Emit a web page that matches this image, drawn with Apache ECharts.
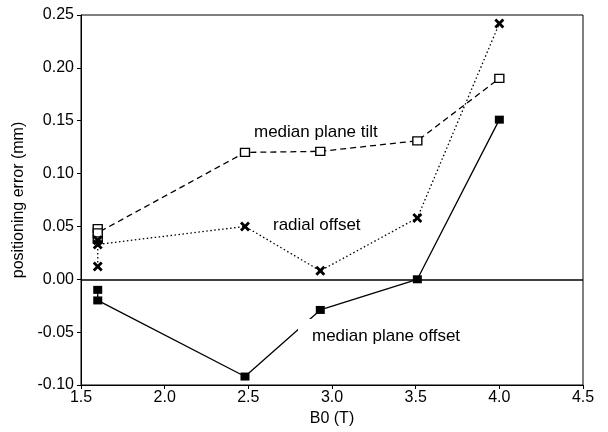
<!DOCTYPE html>
<html>
<head>
<meta charset="utf-8">
<script src="https://cdn.jsdelivr.net/npm/echarts@6/dist/echarts.min.js"></script>
<style>
html,body{margin:0;padding:0;background:#fff;}
#chart{width:608px;height:432px;}
</style>
</head>
<body>
<div id="chart"></div>
<script>
// B0 (T) vs positioning error (mm)
var tiltX = [1.6, 1.6, 1.6, 2.48, 2.93, 3.51, 4.0];
var tiltY = [0.048, 0.038, 0.044, 0.120, 0.121, 0.131, 0.190];
var radialX = [1.6, 1.6, 1.6, 2.48, 2.93, 3.51, 4.0];
var radialY = [0.012, 0.037, 0.033, 0.050, 0.008, 0.058, 0.242];
var offsetX = [1.6, 1.6, 2.48, 2.93, 3.51, 4.0];
var offsetY = [-0.010, -0.020, -0.092, -0.029, 0.0, 0.151];
var xTicks = ['1.5', '2.0', '2.5', '3.0', '3.5', '4.0', '4.5'];
var yTicks = ['-0.10', '-0.05', '0.00', '0.05', '0.10', '0.15', '0.20', '0.25'];

function pairs(xs, ys){
	var out = [];
	for(var i = 0; i < xs.length; i++){
		out.push([xs[i], ys[i]]);
	}
	return out;
}

var crossPath = 'path://M0,2L2,0L5,3L8,0L10,2L7,5L10,8L8,10L5,7L2,10L0,8L3,5Z';
var font = '"Liberation Sans", Arial, sans-serif';

var myChart = echarts.init(document.getElementById('chart'));
var option = {
	backgroundColor: '#fff',
	animation: false,
	grid: {
		left: 81, right: 25, top: 15, bottom: 47,
		show: true, borderColor: '#000', borderWidth: 1
	},
	xAxis: {
		type: 'value',
		min: 1.5, max: 4.5, interval: 0.5,
		name: 'B0 (T)', nameLocation: 'middle', nameGap: 25,
		nameTextStyle: {fontFamily: font, fontSize: 16, color: '#000'},
		axisLine: {onZero: false, lineStyle: {color: '#000'}},
		axisTick: {show: true, length: 4, lineStyle: {color: '#000'}},
		axisLabel: {
			fontFamily: font, fontSize: 16, color: '#000', margin: 5,
			formatter: function(v){ return xTicks[Math.round((v - 1.5) / 0.5)]; }
		},
		splitLine: {show: false}
	},
	yAxis: {
		type: 'value',
		min: -0.10, max: 0.25, interval: 0.05,
		name: 'positioning error (mm)', nameLocation: 'middle', nameGap: 46,
		nameTextStyle: {fontFamily: font, fontSize: 16, color: '#000'},
		axisLine: {show: true, lineStyle: {color: '#000'}},
		axisTick: {show: true, length: 4, lineStyle: {color: '#000'}},
		axisLabel: {
			fontFamily: font, fontSize: 16, color: '#000', margin: 7,
			formatter: function(v){ return yTicks[Math.round((v + 0.10) / 0.05)]; }
		},
		splitLine: {show: false}
	},
	series: [
		{
			name: 'median plane tilt',
			type: 'line',
			data: pairs(tiltX, tiltY),
			symbol: 'rect', symbolSize: [9, 8],
			itemStyle: {color: '#fff', borderColor: '#000', borderWidth: 1.3},
			lineStyle: {color: '#000', width: 1.3, type: [6, 4]},
			z: 3
		},
		{
			name: 'radial offset',
			type: 'line',
			data: pairs(radialX, radialY),
			symbol: crossPath, symbolSize: 10,
			itemStyle: {color: '#000'},
			lineStyle: {color: '#000', width: 1.3, type: [1.5, 2.5]},
			z: 4
		},
		{
			name: 'median plane offset',
			type: 'line',
			data: pairs(offsetX, offsetY),
			symbol: 'rect', symbolSize: [9, 8],
			itemStyle: {color: '#000'},
			lineStyle: {color: '#000', width: 1.3},
			markLine: {
				silent: true,
				symbol: ['none', 'none'],
				label: {show: false},
				lineStyle: {color: '#000', width: 1.5, type: 'solid'},
				data: [{yAxis: 0}]
			},
			z: 3
		}
	],
	graphic: [
		{type: 'text', left: 254, top: 124, z: 10,
			style: {text: 'median plane tilt', font: '17px ' + font, fill: '#000'}},
		{type: 'text', left: 273, top: 217, z: 10,
			style: {text: 'radial offset', font: '17px ' + font, fill: '#000'}},
		{type: 'text', left: 298, top: 319, z: 10,
			style: {text: 'median plane offset', font: '17px ' + font, fill: '#000',
				backgroundColor: '#fff', padding: [9, 0, 2, 14]}}
	]
};
myChart.setOption(option);
</script>
</body>
</html>
